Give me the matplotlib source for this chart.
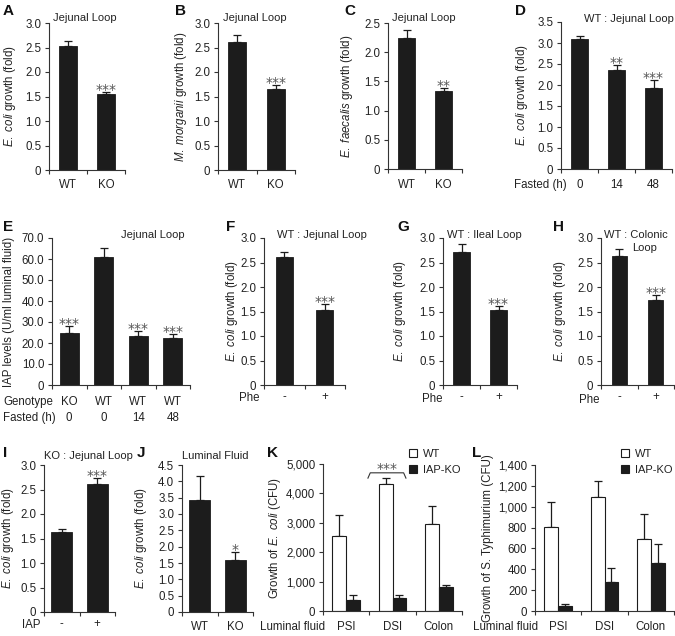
import matplotlib
matplotlib.use("Agg")
import matplotlib.pyplot as plt
from matplotlib.patches import Patch
from matplotlib.ticker import FuncFormatter, FixedLocator
import numpy as np

plt.rcParams['font.family'] = ['Liberation Sans', 'DejaVu Sans']
plt.rcParams['mathtext.fontset'] = 'custom'
plt.rcParams['mathtext.rm'] = 'Liberation Sans'
plt.rcParams['mathtext.it'] = 'Liberation Sans:italic'
plt.rcParams['mathtext.bf'] = 'Liberation Sans:bold'

# ---------------- data ----------------
ab_cats = ['WT', 'KO']
a_vals = [2.54, 1.55]; a_err = [0.10, 0.05]; a_stars = ['', '***']
b_vals = [2.62, 1.66]; b_err = [0.13, 0.07]; b_stars = ['', '***']
c_vals = [2.24, 1.33]; c_err = [0.14, 0.05]; c_stars = ['', '**']
d_cats = ['0', '14', '48']
d_vals = [3.10, 2.36, 1.94]; d_err = [0.07, 0.12, 0.17]; d_stars = ['', '**', '***']
e_genotype = ['KO', 'WT', 'WT', 'WT']
e_fasted = ['0', '0', '14', '48']
e_vals = [24.6, 61.0, 23.1, 22.6]; e_err = [3.4, 4.1, 2.5, 1.6]; e_stars = ['***', '', '***', '***']
phe_cats = ['-', '+']
f_vals = [2.62, 1.53]; f_err = [0.10, 0.13]; f_stars = ['', '***']
g_vals = [2.72, 1.53]; g_err = [0.15, 0.09]; g_stars = ['', '***']
h_vals = [2.64, 1.74]; h_err = [0.13, 0.09]; h_stars = ['', '***']
iap_cats = ['-', '+']
i_vals = [1.64, 2.62]; i_err = [0.06, 0.12]; i_stars = ['', '***']
j_cats = ['WT', 'KO']
j_vals = [3.42, 1.58]; j_err = [0.73, 0.26]; j_stars = ['', '*']
fluid_cats = ['PSI', 'DSI', 'Colon']
k_wt = [2540, 4320, 2960]; k_wt_err = [740, 210, 600]
k_ko = [360, 440, 830]; k_ko_err = [170, 100, 70]
l_wt = [810, 1090, 690]; l_wt_err = [240, 160, 240]
l_ko = [50, 280, 460]; l_ko_err = [20, 130, 180]

W, H = 675, 636
fig = plt.figure(figsize=(W / 100, H / 100), dpi=100)
TXT = '#222222'
FS = 8.3
TFS = 8.0
LFS = 8.3
BAR = '#1c1c1c'
STAR_KW = dict(fontsize=10, color='#555555', family='DejaVu Sans')


def px_axes(l, t, r, b):
    return fig.add_axes([l / W, 1 - b / H, (r - l) / W, (b - t) / H])


def style(ax, ymax, step, fmt, ncat):
    for s in ['top', 'right']:
        ax.spines[s].set_visible(False)
    for s in ['left', 'bottom']:
        ax.spines[s].set_linewidth(0.8)
        ax.spines[s].set_color('#333333')
    ax.set_ylim(0, ymax)
    ax.set_xlim(0, ncat)
    ax.yaxis.set_major_locator(FixedLocator(np.arange(0, ymax + step / 2, step)))
    ax.yaxis.set_major_formatter(FuncFormatter(fmt))
    ax.xaxis.set_major_locator(FixedLocator(np.arange(0, ncat + 1)))
    ax.set_xticklabels([])
    ax.tick_params(axis='y', direction='out', length=3, width=0.8, color='#333333',
                   labelsize=FS, labelcolor=TXT, pad=2.5)
    ax.tick_params(axis='x', direction='out', length=3, width=0.8, color='#333333')


def fmt_fold(v, p):
    return '0' if v == 0 else f'{v:.1f}'


def fmt_comma(v, p):
    return '0' if v == 0 else f'{int(round(v)):,}'


def bars(ax, vals, errs, width, stars=None):
    x = np.arange(len(vals)) + 0.5
    ax.bar(x, vals, width=width, color=BAR, edgecolor=BAR, linewidth=0.6, zorder=2)
    ax.errorbar(x, vals, yerr=[np.zeros(len(vals)), errs], fmt='none', ecolor=BAR,
                elinewidth=0.9, capsize=3.0, capthick=0.9, zorder=1)
    if stars:
        for xi, v, e, s in zip(x, vals, errs, stars):
            if s:
                ax.annotate(s, xy=(xi, v + e), xytext=(0, -1.5), textcoords='offset points',
                            ha='center', va='baseline', **STAR_KW)


def cat_labels(ax, xs, labels, dy_px):
    for xi, lab in zip(xs, labels):
        ax.annotate(lab, xy=(xi, 0), xycoords=('data', 'axes fraction'),
                    xytext=(0, -dy_px * 0.72), textcoords='offset points',
                    ha='center', va='center', fontsize=FS, color=TXT)


def fig_text(x, y, s, **kw):
    kw.setdefault('fontsize', FS)
    kw.setdefault('color', TXT)
    kw.setdefault('ha', 'center')
    kw.setdefault('va', 'center')
    fig.text(x / W, 1 - y / H, s, **kw)


def title(x, y, s, **kw):
    fig_text(x, y, s, fontsize=TFS, **kw)


def ylab(ax, s, xpx):
    ax.set_ylabel(s, fontsize=LFS, color=TXT, va='center')
    pos = ax.get_position()
    l = pos.x0 * W
    w = pos.width * W
    ax.yaxis.set_label_coords((xpx - l) / w, 0.5)


def letter(x, y, s):
    fig_text(x, y, s, fontsize=11, fontweight='bold', color='#111111')


ECOLI = r'$\it{E.\ coli}$ growth (fold)'

# ---- A ----
ax = px_axes(49, 23, 125, 170)
style(ax, 3.0, 0.5, fmt_fold, 2)
bars(ax, a_vals, a_err, 0.47, a_stars)
cat_labels(ax, [0.5, 1.5], ab_cats, 15)
ylab(ax, ECOLI, 10)
title(85, 18, 'Jejunal Loop')
letter(8, 11, 'A')

# ---- B ----
ax = px_axes(218, 23, 295, 170)
style(ax, 3.0, 0.5, fmt_fold, 2)
bars(ax, b_vals, b_err, 0.47, b_stars)
cat_labels(ax, [0.5, 1.5], ab_cats, 15)
ylab(ax, r'$\it{M.\ morganii}$ growth (fold)', 181)
title(255, 18, 'Jejunal Loop')
letter(181, 11, 'B')

# ---- C ----
ax = px_axes(388, 23, 462, 169)
style(ax, 2.5, 0.5, fmt_fold, 2)
bars(ax, c_vals, c_err, 0.47, c_stars)
cat_labels(ax, [0.5, 1.5], ab_cats, 16)
ylab(ax, r'$\it{E.\ faecalis}$ growth (fold)', 347)
title(424, 18, 'Jejunal Loop')
letter(350, 11, 'C')

# ---- D ----
ax = px_axes(561, 22, 672, 169)
style(ax, 3.5, 0.5, fmt_fold, 3)
bars(ax, d_vals, d_err, 0.45, d_stars)
cat_labels(ax, [0.5, 1.5, 2.5], d_cats, 16)
fig_text(540, 185, 'Fasted (h)')
ylab(ax, ECOLI, 522)
title(629, 19, 'WT : Jejunal Loop')
letter(520, 11, 'D')

# ---- E ----
ax = px_axes(52, 238, 190, 385)
style(ax, 70, 10, fmt_fold, 4)
bars(ax, e_vals, e_err, 0.55, e_stars)
cat_labels(ax, [0.5, 1.5, 2.5, 3.5], e_genotype, 17)
cat_labels(ax, [0.5, 1.5, 2.5, 3.5], e_fasted, 33)
fig_text(3, 402, 'Genotype', ha='left')
fig_text(3, 418, 'Fasted (h)', ha='left')
ylab(ax, 'IAP levels (U/ml luminal fluid)', 9)
title(153, 235, 'Jejunal Loop')
letter(8, 227, 'E')

# ---- F ----
ax = px_axes(264, 238, 345, 385)
style(ax, 3.0, 0.5, fmt_fold, 2)
bars(ax, f_vals, f_err, 0.42, f_stars)
cat_labels(ax, [0.5, 1.5], phe_cats, 12)
fig_text(249, 398, 'Phe')
ylab(ax, ECOLI, 232)
title(277, 235, 'WT : Jejunal Loop', ha='left')
letter(231, 227, 'F')

# ---- G ----
ax = px_axes(443, 238, 517, 385)
style(ax, 3.0, 0.5, fmt_fold, 2)
bars(ax, g_vals, g_err, 0.45, g_stars)
cat_labels(ax, [0.5, 1.5], phe_cats, 12)
fig_text(432, 399, 'Phe')
ylab(ax, ECOLI, 400)
title(484, 235, 'WT : Ileal Loop')
letter(403, 227, 'G')

# ---- H ----
ax = px_axes(601, 238, 674, 385)
style(ax, 3.0, 0.5, fmt_fold, 2)
bars(ax, h_vals, h_err, 0.42, h_stars)
cat_labels(ax, [0.5, 1.5], phe_cats, 12)
fig_text(589, 400, 'Phe')
ylab(ax, ECOLI, 560)
title(604, 235, 'WT : Colonic', ha='left')
title(645, 248, 'Loop', ha='center')
letter(558, 227, 'H')

# ---- I ----
ax = px_axes(44, 465, 115, 612)
style(ax, 3.0, 0.5, fmt_fold, 2)
bars(ax, i_vals, i_err, 0.58, i_stars)
cat_labels(ax, [0.5, 1.5], iap_cats, 12)
fig_text(31, 625, 'IAP')
ylab(ax, ECOLI, 8)
title(88, 456, 'KO : Jejunal Loop')
letter(5, 453, 'I')

# ---- J ----
ax = px_axes(182, 465, 253, 612)
style(ax, 4.5, 0.5, fmt_fold, 2)
bars(ax, j_vals, j_err, 0.58, j_stars)
cat_labels(ax, [0.5, 1.5], j_cats, 15)
ylab(ax, ECOLI, 141)
title(215, 456, 'Luminal Fluid')
letter(141, 453, 'J')


def grouped(ax, wt, wt_err, ko, ko_err):
    x = np.arange(len(wt)) + 0.5
    bw = 0.3
    ax.bar(x - bw / 2, wt, width=bw, color='white', edgecolor=BAR, linewidth=0.8, zorder=2)
    ax.bar(x + bw / 2, ko, width=bw, color=BAR, edgecolor=BAR, linewidth=0.8, zorder=2)
    ax.errorbar(x - bw / 2, wt, yerr=[np.zeros(len(wt)), wt_err], fmt='none', ecolor=BAR,
                elinewidth=0.9, capsize=3.0, capthick=0.9, zorder=1)
    ax.errorbar(x + bw / 2, ko, yerr=[np.zeros(len(ko)), ko_err], fmt='none', ecolor=BAR,
                elinewidth=0.9, capsize=3.0, capthick=0.9, zorder=1)
    return x


def legend_px(x, y):
    handles = [Patch(facecolor='white', edgecolor=BAR, linewidth=0.8, label='WT'),
               Patch(facecolor=BAR, edgecolor=BAR, linewidth=0.8, label='IAP-KO')]
    fig.legend(handles=handles, loc='upper left', bbox_to_anchor=(x / W, 1 - y / H),
               frameon=False, fontsize=TFS, handlelength=0.75, handleheight=0.75,
               handletextpad=0.5, labelspacing=0.5, borderpad=0, borderaxespad=0,
               labelcolor=TXT)


# ---- K ----
ax = px_axes(323, 464, 462, 611)
style(ax, 5000, 1000, fmt_comma, 3)
xk = grouped(ax, k_wt, k_wt_err, k_ko, k_ko_err)
cat_labels(ax, xk, fluid_cats, 16)
fig_text(293, 627, 'Luminal fluid')
ylab(ax, r'Growth of $\it{E.\ coli}$ (CFU)', 275)
bx0, bx1, by0, by1 = 0.97, 1.79, 4520, 4700
ax.plot([bx0, bx0 + 0.05, bx1 - 0.05, bx1], [by0, by1, by1, by0], color='#333333',
        lw=0.8, clip_on=False, solid_joinstyle='round')
ax.annotate('***', xy=((bx0 + bx1) / 2, by1), xytext=(0, 0), textcoords='offset points',
            ha='center', va='baseline', annotation_clip=False, **STAR_KW)
legend_px(409, 449)
letter(272, 453, 'K')

# ---- L ----
ax = px_axes(535, 465, 674, 611)
style(ax, 1400, 200, fmt_comma, 3)
xl = grouped(ax, l_wt, l_wt_err, l_ko, l_ko_err)
cat_labels(ax, xl, fluid_cats, 16)
fig_text(506, 627, 'Luminal fluid')
ylab(ax, 'Growth of S. Typhimurium (CFU)', 488)
legend_px(621, 449)
letter(477, 453, 'L')

fig.savefig('out.png', dpi=100, facecolor='white')
